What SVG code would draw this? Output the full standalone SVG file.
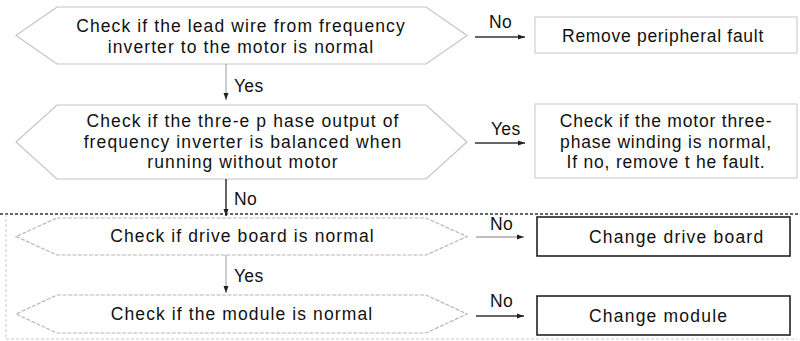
<svg xmlns="http://www.w3.org/2000/svg" width="800" height="341" viewBox="0 0 800 341">
<defs>
<style>
text{font-family:"Liberation Sans",Arial,sans-serif;fill:#111;}
.t{font-size:17.5px;letter-spacing:1.1px;text-anchor:middle;}
.l{font-size:17.5px;letter-spacing:0.3px;}
.hex{fill:#fff;stroke:#c4c4c4;stroke-width:1.2;}
.hexd{fill:#fff;stroke:#b8b8b8;stroke-width:1.2;stroke-dasharray:4 1.5;}
.box{fill:#fff;stroke:#cfcfcf;stroke-width:1.2;}
.boxb{fill:#fff;stroke:#222;stroke-width:1.6;}
.c{stroke:#333;stroke-width:1.5;fill:none;}
.cg{stroke:#aaa;stroke-width:1.5;fill:none;}
.cv{stroke:#999;stroke-width:1;fill:none;}
</style>
<marker id="ah" markerWidth="8" markerHeight="6" refX="7" refY="3" orient="auto" markerUnits="userSpaceOnUse">
<path d="M0,0.5 L7,3 L0,5.5 Z" fill="#222"/>
</marker>
</defs>

<g id="region">
<line x1="0" y1="214" x2="800" y2="214" stroke="#333" stroke-width="1.3" stroke-dasharray="3 2"/>
<path d="M6,214 V339 H797" fill="none" stroke="#c8c8c8" stroke-width="1" stroke-dasharray="3 2"/>
</g>

<g id="n1">
<polygon class="hex" points="57,7 426,7 467,35.5 426,64 57,64 16,35.5"/>
<text class="t" x="241" y="32">Check if the lead wire from frequency</text>
<text class="t" x="241" y="53">inverter to the motor is normal</text>
</g>

<g id="n2">
<rect class="box" x="535" y="17" width="262" height="36"/>
<text class="t" x="663" y="42" style="letter-spacing:0.7px">Remove peripheral fault</text>
</g>

<g id="n3">
<polygon class="hex" points="57,105 426,105 467,142 426,179 57,179 16,142"/>
<text class="t" x="243" y="127">Check if the thre-e p hase output of</text>
<text class="t" x="243" y="147.5">frequency inverter is balanced when</text>
<text class="t" x="243" y="168">running without motor</text>
</g>

<g id="n4">
<rect class="box" x="535" y="104" width="262" height="74"/>
<text class="t" x="666" y="127" style="letter-spacing:0.8px">Check if the motor three-</text>
<text class="t" x="666" y="147.5" style="letter-spacing:0.8px">phase winding is normal,</text>
<text class="t" x="666" y="168" style="letter-spacing:0.8px">If no, remove t he fault.</text>
</g>

<g id="n5">
<polygon class="hexd" points="57,218 426,218 467,236.5 426,255 57,255 16,236.5"/>
<text class="t" x="242.5" y="242">Check if drive board is normal</text>
</g>

<g id="n6">
<rect class="boxb" x="537" y="217" width="253" height="39"/>
<text class="l" x="589" y="243" style="letter-spacing:1.2px">Change drive board</text>
</g>

<g id="n7">
<polygon class="hexd" points="57,295 426,295 467,314 426,333 57,333 16,314"/>
<text class="t" x="242" y="320">Check if the module is normal</text>
</g>

<g id="n8">
<rect class="boxb" x="537" y="296" width="253" height="39"/>
<text class="l" x="589" y="322" style="letter-spacing:1.2px">Change module</text>
</g>

<g id="connectors">
<line class="c" x1="475" y1="37" x2="525" y2="37" marker-end="url(#ah)"/>
<text class="l" x="489" y="28">No</text>
<line class="cv" x1="226" y1="64" x2="226" y2="100" marker-end="url(#ah)"/>
<text class="l" x="234" y="92">Yes</text>
<line class="c" x1="475" y1="143" x2="525" y2="143" marker-end="url(#ah)"/>
<text class="l" x="491" y="135">Yes</text>
<line class="c" x1="226" y1="179" x2="226" y2="216" marker-end="url(#ah)"/>
<text class="l" x="234" y="205">No</text>
<line class="cg" x1="476" y1="237" x2="524" y2="237" marker-end="url(#ah)"/>
<text class="l" x="490" y="230">No</text>
<line class="cv" x1="226" y1="255" x2="226" y2="293" marker-end="url(#ah)"/>
<text class="l" x="234" y="282">Yes</text>
<line class="c" x1="476" y1="316" x2="524" y2="316" marker-end="url(#ah)"/>
<text class="l" x="490" y="307">No</text>
</g>
</svg>
